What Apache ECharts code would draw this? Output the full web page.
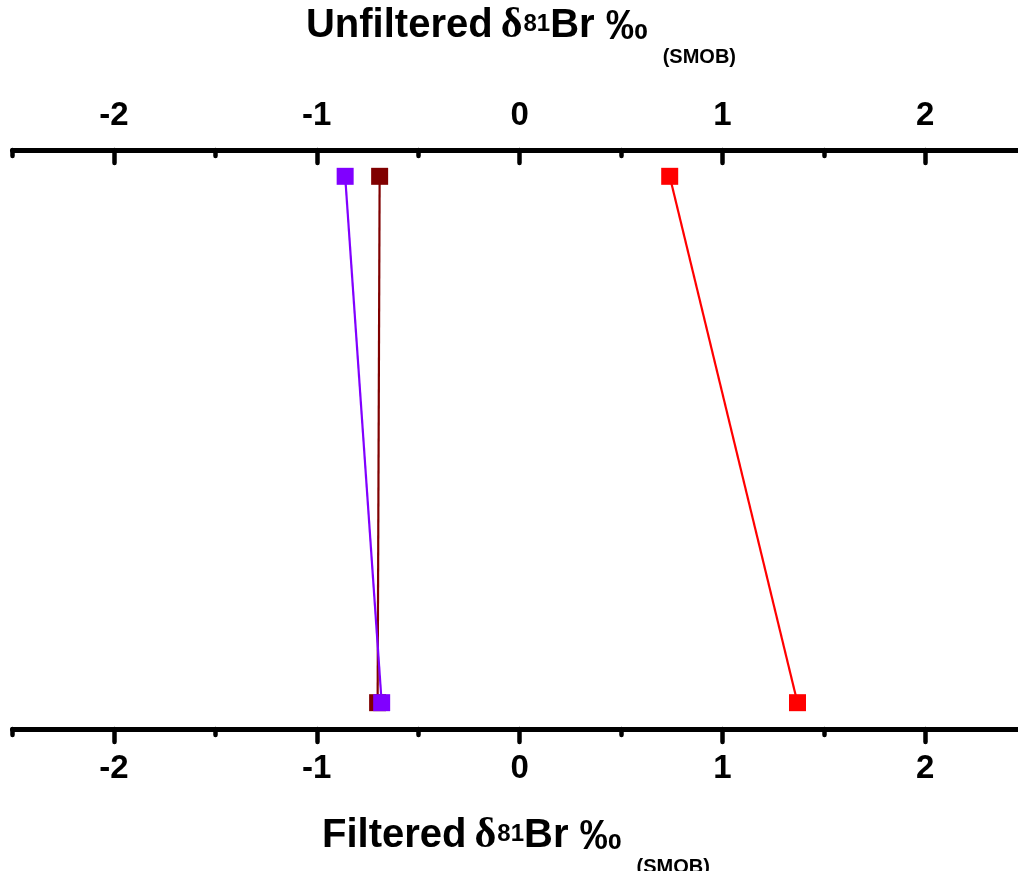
<!DOCTYPE html>
<html>
<head>
<meta charset="utf-8">
<script src="https://cdn.jsdelivr.net/npm/echarts@6/dist/echarts.min.js"></script>
<style>
html,body{margin:0;padding:0;background:#fff;}
#chart{width:1018px;height:871px;}
</style>
</head>
<body>
<div id="chart"></div>
<script>
// Data
const seriesNames = ['Red', 'Dark red', 'Purple'];
const seriesColors = ['#FF0000', '#800000', '#8000FF'];
const unfiltered = [0.74, -0.69, -0.86];   // top axis values
const filtered = [1.37, -0.70, -0.68];     // bottom axis values
const rowPos = { unfiltered: 1, filtered: 0 };
const majorTicks = [-2, -1, 0, 1, 2];
const minorTicks = [-2.5, -1.5, -0.5, 0.5, 1.5, 2.5];
const xMin = -2.5, xMax = 2.5;

const FONT = '"Liberation Sans", Arial, Helvetica, sans-serif';

function mainAxis(pos, inside, margin) {
  return {
    type: 'value', position: pos, min: xMin, max: xMax,
    axisLine: { show: true, onZero: false, lineStyle: { color: '#000', width: 5, cap: 'round' } },
    axisTick: { show: true, inside: inside, length: 13, customValues: majorTicks,
      lineStyle: { color: '#000', width: 4.5, cap: 'round' } },
    axisLabel: { show: true, customValues: majorTicks, margin: margin,
      color: '#000', fontFamily: FONT, fontWeight: 'bold', fontSize: 33,
      formatter: v => String(v) },
    splitLine: { show: false }
  };
}
function minorAxis(pos, inside) {
  return {
    type: 'value', position: pos, min: xMin, max: xMax,
    axisLine: { show: false, onZero: false },
    axisTick: { show: true, inside: inside, length: 6, customValues: minorTicks,
      lineStyle: { color: '#000', width: 4.5, cap: 'round' } },
    axisLabel: { show: false },
    splitLine: { show: false }
  };
}

const series = seriesNames.map((n, i) => ({
  name: n, type: 'line', xAxisIndex: 0,
  data: [[unfiltered[i], rowPos.unfiltered], [filtered[i], rowPos.filtered]],
  symbol: 'rect', symbolSize: 17,
  lineStyle: { color: seriesColors[i], width: 2.2 },
  itemStyle: { color: seriesColors[i] },
  z: 2 + i
}));

const rich = {
  m: { fontFamily: FONT, fontWeight: 'bold', fontSize: 40, color: '#000', verticalAlign: 'middle' },
  d: { fontFamily: '"Liberation Serif", "Times New Roman", serif', fontWeight: 'bold', fontSize: 42, color: '#000', verticalAlign: 'middle', padding: [0, 1, 0, 8] },
  s: { fontFamily: FONT, fontWeight: 'bold', fontSize: 24, color: '#000', verticalAlign: 'middle', padding: [0, 0, 4, 0] },
  p: { fontFamily: FONT, fontWeight: 'bold', fontSize: 42, color: '#000', verticalAlign: 'middle', padding: [2, 0, 0, 0] },
  b: { fontFamily: FONT, fontWeight: 'bold', fontSize: 20, color: '#000', verticalAlign: 'middle', padding: [62, 0, 0, 15] }
};

const chart = echarts.init(document.getElementById('chart'), null, { renderer: 'canvas' });
chart.setOption({
  animation: false,
  backgroundColor: '#fff',
  grid: { left: 12.5, right: -8.7, top: 150, bottom: 142, containLabel: false, outerBoundsMode: 'none' },
  xAxis: [
    mainAxis('bottom', false, 23),
    mainAxis('top', true, 18),
    minorAxis('bottom', false),
    minorAxis('top', true)
  ],
  yAxis: { type: 'value', min: -0.05, max: 1.05, show: false },
  series: series,
  graphic: [
    { type: 'text', x: 521, y: 26, z: 10,
      style: { text: '{m|Unfiltered}{d|δ}{s|81}{m|Br }{p|‰}{b|(SMOB)}', rich: rich, align: 'center', verticalAlign: 'middle' } },
    { type: 'text', x: 516, y: 836, z: 10,
      style: { text: '{m|Filtered}{d|δ}{s|81}{m|Br }{p|‰}{b|(SMOB)}', rich: rich, align: 'center', verticalAlign: 'middle' } }
  ]
});
</script>
</body>
</html>
